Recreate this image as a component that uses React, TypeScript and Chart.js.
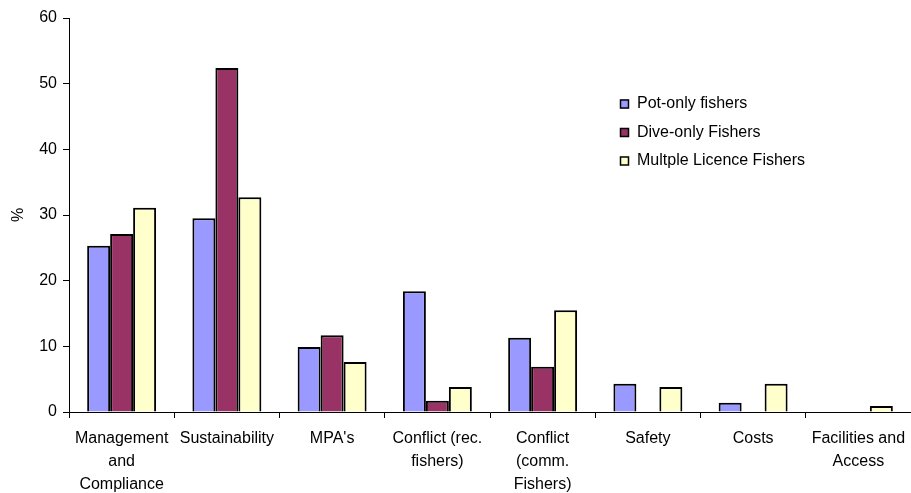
import React, { useEffect, useRef } from "react";
import { Chart, registerables } from "chart.js";

Chart.register(...registerables);

const categories: (string | string[])[] = [
  ["Management", "and", "Compliance"],
  "Sustainability",
  "MPA's",
  ["Conflict (rec.", "fishers)"],
  ["Conflict", "(comm.", "Fishers)"],
  "Safety",
  "Costs",
  ["Facilities and", "Access"],
];

const potOnly = [25.3, 29.5, 9.9, 18.4, 11.3, 4.3, 1.4, 0];
const diveOnly = [27.1, 52.4, 11.7, 1.7, 6.9, 0, 0, 0];
const multiple = [31.1, 32.7, 7.6, 3.8, 15.5, 3.8, 4.3, 0.9];

const seriesNames = ["Pot-only fishers", "Dive-only Fishers", "Multple Licence Fishers"];
const seriesColors = ["#9999FF", "#993366", "#FFFFCC"];

const yTicks = [0, 10, 20, 30, 40, 50, 60];

const FONT = "'Liberation Sans', Arial, sans-serif";

const legendPlugin = {
  id: "customLegend",
  afterDraw(chart: any) {
    const ctx = chart.ctx;
    ctx.save();
    ctx.font = `16px ${FONT}`;
    ctx.textBaseline = "middle";
    ctx.textAlign = "left";
    const x0 = 620;
    const y0 = 104;
    const gap = 28.5;
    chart.data.datasets.forEach((ds: any, i: number) => {
      const y = y0 + i * gap;
      ctx.fillStyle = ds.backgroundColor;
      ctx.fillRect(x0, y - 4.5, 9, 9);
      ctx.strokeStyle = "#000";
      ctx.lineWidth = 1.5;
      ctx.strokeRect(x0 + 0.5, y - 4, 8, 8);
      ctx.fillStyle = "#000";
      ctx.fillText(ds.label, x0 + 17, y);
    });
    ctx.restore();
  },
};

export default function App() {
  const canvasRef = useRef<HTMLCanvasElement | null>(null);

  useEffect(() => {
    document.body.style.margin = "0";
    const canvas = canvasRef.current;
    if (!canvas) return;
    const data = [potOnly, diveOnly, multiple];
    const chart = new Chart(canvas, {
      type: "bar",
      data: {
        labels: categories,
        datasets: seriesNames.map((name, i) => ({
          label: name,
          data: data[i],
          backgroundColor: seriesColors[i],
          borderColor: "#000000",
          borderWidth: 2,
          borderSkipped: "bottom",
          categoryPercentage: 0.655,
          barPercentage: 1.0,
        })),
      },
      options: {
        responsive: false,
        animation: false,
        devicePixelRatio: 1,
        layout: { padding: { top: 18, right: 0, bottom: 0, left: 9 } },
        plugins: {
          legend: { display: false },
          tooltip: { enabled: false },
        },
        scales: {
          x: {
            offset: true,
            grid: {
              display: true,
              offset: true,
              drawOnChartArea: false,
              tickLength: 6,
              color: "#000",
              lineWidth: 1,
            },
            border: { display: true, color: "#000", width: 1 },
            ticks: {
              color: "#000",
              font: { family: FONT, size: 16, lineHeight: 1.45 },
              padding: 9,
              maxRotation: 0,
              autoSkip: false,
            },
            afterFit(scale: any) {
              scale.height = 81;
              scale.paddingLeft = 0;
              scale.paddingRight = 0;
            },
          },
          y: {
            min: 0,
            max: 60,
            afterBuildTicks(scale: any) {
              scale.ticks = yTicks.map((v) => ({ value: v }));
            },
            grid: {
              display: true,
              drawOnChartArea: false,
              tickLength: 6,
              color: "#000",
              lineWidth: 1,
            },
            border: { display: true, color: "#000", width: 1 },
            ticks: {
              color: "#000",
              font: { family: FONT, size: 16 },
              padding: 6,
            },
            title: {
              display: true,
              text: "%",
              color: "#000",
              font: { family: FONT, size: 16 },
              padding: 0,
            },
            afterFit(scale: any) {
              scale.width = 60;
              scale.paddingTop = 0;
              scale.paddingBottom = 0;
            },
          },
        },
      },
      plugins: [legendPlugin],
    });
    return () => chart.destroy();
  }, []);

  return (
    <div style={{ position: "absolute", left: 0, top: 0, width: 911, height: 493, background: "#fff" }}>
      <canvas ref={canvasRef} width={911} height={493} />
    </div>
  );
}
